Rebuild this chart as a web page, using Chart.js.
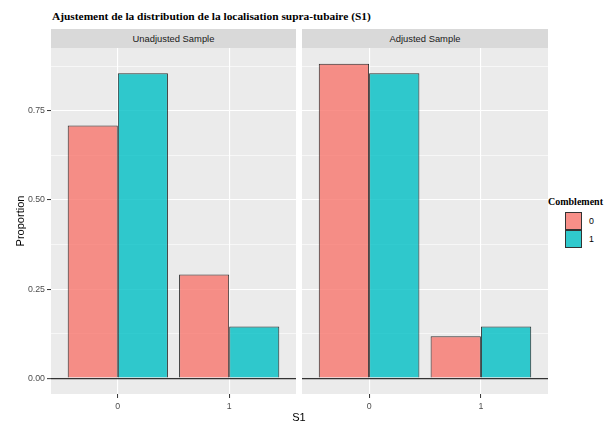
<!DOCTYPE html>
<html><head><meta charset="utf-8">
<script src="https://cdn.jsdelivr.net/npm/chart.js@4"></script>
<style>
html,body{margin:0;padding:0;background:#fff;}
#wrap{position:relative;width:614px;height:428px;overflow:hidden;font-family:"Liberation Sans",Arial,sans-serif;background:#fff;}
.abs{position:absolute;white-space:nowrap;}
.strip{top:29px;height:19px;width:245px;background:#D9D9D9;color:#1A1A1A;font-size:9.4px;line-height:19px;text-align:center;}
.key{width:17px;height:18px;border:1px solid #333;box-sizing:border-box;left:565px;}
.lab{left:589px;font-size:8.8px;line-height:12px;color:#000;}
</style></head>
<body><div id="wrap">
<div id="plotTitle" class="abs" style="left:52px;top:9px;font-weight:bold;font-size:11.4px;font-family:'Liberation Serif',serif;line-height:14px;color:#000;">Ajustement de la distribution de la localisation supra-tubaire (S1)</div>
<div id="strip0" class="abs strip" style="left:51px"></div>
<div id="strip1" class="abs strip" style="left:302px;width:246px"></div>
<canvas id="c0" class="abs" width="296" height="380" style="left:0;top:48px"></canvas>
<canvas id="c1" class="abs" width="246" height="380" style="left:302px;top:48px"></canvas>
<div class="abs" style="left:-30px;top:214px;width:100px;text-align:center;font-size:11px;line-height:14px;transform:rotate(-90deg);color:#000">Proportion</div>
<div class="abs" style="left:249px;top:410px;width:100px;text-align:center;font-size:11px;line-height:14px;color:#000">S1</div>
<div id="legTitle" class="abs" style="left:548px;top:195px;font:bold 10px 'Liberation Serif',serif;line-height:13px;color:#000"></div>
<div id="key0" class="abs key" style="top:212px;background:#F78F88"></div>
<div id="key1" class="abs key" style="top:230px;background:#30C9CD"></div>
<div id="lab0" class="abs lab" style="top:215px"></div>
<div id="lab1" class="abs lab" style="top:233px"></div>
</div>
<script>
const panelNames = ['Unadjusted Sample', 'Adjusted Sample'];
const categories = [0, 1];
const categoryLabels = ['0', '1'];
const legendTitle = 'Comblement';
const fillGroups = ['0', '1'];
const unadjusted0 = [0.709, 0.291];
const unadjusted1 = [0.855, 0.145];
const adjusted0 = [0.882, 0.118];
const adjusted1 = [0.855, 0.145];
const yMajorTicks = [0, 0.25, 0.5, 0.75];
const yMajorLabels = ['0.00', '0.25', '0.50', '0.75'];
const yMinorTicks = [0.125, 0.375, 0.625, 0.875];

document.getElementById('strip0').textContent = panelNames[0];
document.getElementById('strip1').textContent = panelNames[1];
document.getElementById('legTitle').textContent = legendTitle;
document.getElementById('lab0').textContent = fillGroups[0];
document.getElementById('lab1').textContent = fillGroups[1];

const bgPlugin = {
  id: 'panelBg',
  beforeDraw(chart) {
    const {ctx, chartArea: a} = chart;
    ctx.save();
    ctx.fillStyle = '#EBEBEB';
    ctx.fillRect(a.left, a.top, a.right - a.left, a.bottom - a.top);
    ctx.restore();
  }
};

const isMinor = v => yMinorTicks.includes(v);
const noPad = s => { s.paddingTop = 0; s.paddingBottom = 0; s.paddingLeft = 0; s.paddingRight = 0; };

function makePanel(id, s0, s1, showY) {
  return new Chart(document.getElementById(id), {
    type: 'bar',
    data: {
      datasets: [
        {label: fillGroups[0], data: categories.map((c, i) => ({x: c, y: s0[i]})),
         backgroundColor: 'rgba(248,118,109,0.8)', borderColor: 'rgba(0,0,0,0.8)', borderWidth: 1},
        {label: fillGroups[1], data: categories.map((c, i) => ({x: c, y: s1[i]})),
         backgroundColor: 'rgba(0,191,196,0.8)', borderColor: 'rgba(0,0,0,0.8)', borderWidth: 1}
      ]
    },
    options: {
      responsive: false,
      animation: false,
      devicePixelRatio: 1,
      categoryPercentage: 0.9,
      barPercentage: 1.0,
      layout: {padding: 0},
      plugins: {legend: {display: false}, tooltip: {enabled: false}},
      scales: {
        x: {
          type: 'linear', min: -0.6, max: 1.6, offset: false,
          afterBuildTicks: s => { s.ticks = categories.map(v => ({value: v})); },
          afterFit: s => { s.height = 34; noPad(s); },
          ticks: {autoSkip: false, maxRotation: 0, padding: 3, color: '#4D4D4D',
                  font: {size: 8.8, family: '"Liberation Sans", Arial, sans-serif'},
                  callback: v => { const i = categories.indexOf(v); return i >= 0 ? categoryLabels[i] : ''; }},
          grid: {offset: false, color: '#FFFFFF', lineWidth: 1.1, tickColor: '#333333', tickLength: 4, tickWidth: 1},
          border: {display: false}
        },
        y: {
          type: 'linear', min: -0.0441, max: 0.926,
          afterBuildTicks: s => { s.ticks = [...yMajorTicks, ...yMinorTicks].sort((a, b) => a - b).map(v => ({value: v})); },
          afterFit: s => { s.width = showY ? 51 : 0; noPad(s); },
          ticks: {display: showY, autoSkip: false, padding: 2, color: '#4D4D4D',
                  font: {size: 8.8, family: '"Liberation Sans", Arial, sans-serif'},
                  callback: v => { const i = yMajorTicks.indexOf(v); return i >= 0 ? yMajorLabels[i] : ''; }},
          grid: {
            offset: false,
            color: c => (c.tick && c.tick.value === 0) ? '#333333' : '#FFFFFF',
            lineWidth: c => (c.tick && c.tick.value === 0) ? 1.3 : (c.tick && isMinor(c.tick.value) ? 0.6 : 1.1),
            tickColor: c => (c.tick && isMinor(c.tick.value)) ? 'rgba(0,0,0,0)' : '#333333',
            tickLength: 4, tickWidth: 1, drawTicks: showY
          },
          border: {display: false}
        }
      }
    },
    plugins: [bgPlugin]
  });
}

makePanel('c0', unadjusted0, unadjusted1, true);
makePanel('c1', adjusted0, adjusted1, false);
</script>
</body></html>
